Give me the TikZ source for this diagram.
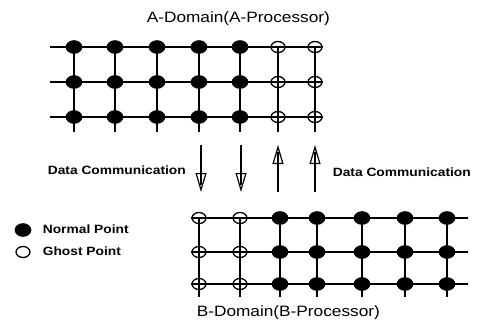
\documentclass[tikz,border=0pt]{standalone}
\usepackage{fontspec}
\setmainfont{Liberation Sans}
\newfontfamily\widefont[FakeStretch=1.15]{Liberation Sans}
\usetikzlibrary{arrows.meta,shapes.geometric}

\begin{document}
\begin{tikzpicture}[x=1pt, y=-1pt, line width=1.6pt,
	normal/.style = {draw, ellipse, fill=black, inner sep=0pt, minimum width=15pt, minimum height=12pt},
	ghost/.style = {draw, ellipse, line width=1.3pt, inner sep=0pt, minimum width=14pt, minimum height=11pt},
	title/.style = {font=\widefont\fontsize{15}{17}\selectfont, anchor=west, inner sep=0pt},
	legend/.style = {font=\widefont\bfseries\fontsize{12}{14}\selectfont, anchor=west, inner sep=0pt},
	transfer/.style = {-{Triangle[open, length=19pt, width=11pt, line width=1.2pt]}, line width=1.5pt}]

	\useasboundingbox (0,0) rectangle (477,322);

	% A grid: last two columns are ghosts
	\foreach \x [count=\c] in {74,115,157,199,240,278,315} {
		\foreach \y [count=\r] in {47,82,117} {
			\ifnum\c>5
				\node[ghost] (a\r\c) at (\x,\y) {};
			\else
				\node[normal] (a\r\c) at (\x,\y) {};
			\fi
		}
	}

	% B grid: first two columns are ghosts
	\foreach \x [count=\c] in {199,240,280,317,362,405,447} {
		\foreach \y [count=\r] in {218,252,284} {
			\ifnum\c<3
				\node[ghost] (b\r\c) at (\x,\y) {};
			\else
				\node[normal] (b\r\c) at (\x,\y) {};
			\fi
		}
	}

	% grid lines
	\foreach \r/\y in {1/47,2/82,3/117} {
		\coordinate (al\r) at (50,\y);
		\draw (al\r) -- (a\r7.east);
	}
	\foreach \c in {1,...,7}
		\draw (a1\c.center) -- (a3\c.center) -- ++(0,15);

	\foreach \r/\y in {1/218,2/252,3/284} {
		\coordinate (br\r) at (468,\y);
		\draw (b\r1.west) -- (br\r);
	}
	\foreach \c in {1,...,7}
		\draw (b1\c.center) -- (b3\c.center) -- ++(0,13);

	% data exchange between the two domains
	\coordinate (d1) at (201,145);
	\coordinate (d1e) at (201,192);
	\coordinate (d2) at (241,145);
	\coordinate (d2e) at (241,192);
	\coordinate (u1) at (278,192);
	\coordinate (u1e) at (278,145);
	\coordinate (u2) at (315,192);
	\coordinate (u2e) at (315,145);

	\draw[transfer] (d1) to (d1e);
	\draw[transfer] (d2) to (d2e);
	\draw[transfer] (u1) to (u1e);
	\draw[transfer] (u2) to (u2e);
	\draw[line width=1.5pt] (d1) -- ++(0,40);
	\draw[line width=1.5pt] (d2) -- ++(0,40);
	\draw[line width=1.5pt] (u1) -- ++(0,-40);
	\draw[line width=1.5pt] (u2) -- ++(0,-40);

	\node[legend] (dl) at (47,170) {Data Communication};
	\node[legend] (dr) at (332,172) {Data Communication};

	% key
	\node[normal, minimum width=15pt, minimum height=12pt] (nk) at (23,230) {};
	\node[legend] (nt) at (42,229) {Normal Point};
	\node[ghost] (gk) at (23,252) {};
	\node[legend] (gt) at (42,251) {Ghost Point};

	\node[title] (ta) at (146,19) {A-Domain(A-Processor)};
	\node[title] (tb) at (196,313) {B-Domain(B-Processor)};

\end{tikzpicture}
\end{document}
